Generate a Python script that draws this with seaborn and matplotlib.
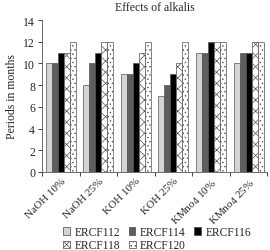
import pandas as pd
import matplotlib
matplotlib.use("Agg")
import matplotlib.pyplot as plt
import seaborn as sns

# Datos
tratamientos = ["NaOH 10%", "NaOH 25%", "KOH 10%", "KOH 25%",
                "KMno$_4$ 10%", "KMno$_4$ 25%"]
cepas = ["ERCF112", "ERCF114", "ERCF116", "ERCF118", "ERCF120"]
ercf112 = [10, 8, 9, 7, 11, 10]
ercf114 = [10, 10, 9, 8, 11, 11]
ercf116 = [11, 11, 10, 9, 12, 11]
ercf118 = [11, 12, 11, 10, 12, 12]
ercf120 = [12, 12, 12, 12, 12, 12]

colores = ["#d4d4d4", "#5e5e5e", "#000000", "#ffffff", "#ffffff"]
tramas = ["", "", "", "xxx", "...."]

valores = [ercf112, ercf114, ercf116, ercf118, ercf120]
filas = []
for cepa, serie in zip(cepas, valores):
    for trat, v in zip(tratamientos, serie):
        filas.append({"Tratamiento": trat, "Cepa": cepa, "Meses": v})
df = pd.DataFrame(filas)

sns.set_style("ticks")
plt.rcParams["font.family"] = ["Liberation Serif", "DejaVu Serif"]
plt.rcParams["hatch.linewidth"] = 0.5

fig = plt.figure(figsize=(2.7, 2.51), dpi=100)
ax = fig.add_axes([0.156, 0.311, 0.834, 0.605])

sns.barplot(data=df, x="Tratamiento", y="Meses", hue="Cepa",
            palette=colores, width=0.8, ax=ax, legend=False,
            edgecolor="#555555", linewidth=0.5, saturation=1)

for cont, trama in zip(ax.containers, tramas):
    for barra in cont:
        barra.set_hatch(trama)
        barra.set_edgecolor("#555555")

ax.set_ylim(0, 14)
ax.set_yticks(range(0, 15, 2))
ax.set_xlim(-0.5, len(tratamientos) - 0.5)
ax.set_xlabel("")
ax.set_ylabel("Periods in months", fontsize=8.5, labelpad=4)
ax.set_title("Effects of alkalis", fontsize=8.5, pad=7)
ax.tick_params(axis="y", labelsize=8.5, length=3, width=0.6, pad=2)
ax.tick_params(axis="x", which="major", length=0, labelsize=8, pad=3)
ax.set_xticks([i - 0.5 for i in range(len(tratamientos) + 1)], minor=True)
ax.tick_params(axis="x", which="minor", length=3, width=0.6)
plt.setp(ax.get_xticklabels(), rotation=45, ha="right", rotation_mode="anchor")
sns.despine(ax=ax)
for s in ["left", "bottom"]:
    ax.spines[s].set_linewidth(0.6)
    ax.spines[s].set_color("#555555")

handles = []
for c, t in zip(colores, tramas):
    handles.append(matplotlib.patches.Patch(facecolor=c, hatch=t,
                                            edgecolor="#444444", linewidth=0.5))

# leyenda en dos filas: 3 arriba, 2 abajo
opciones = dict(loc="center left", frameon=False, fontsize=8.3,
                handlelength=0.6, handleheight=0.6, handletextpad=0.4,
                columnspacing=0.7, borderpad=0, borderaxespad=0)
fig.legend(handles[:3], cepas[:3], ncol=3,
           bbox_to_anchor=(0.235, 0.072), **opciones)
fig.legend(handles[3:], cepas[3:], ncol=2,
           bbox_to_anchor=(0.235, 0.018), **opciones)

fig.savefig("out.png", dpi=100)
plt.close()
